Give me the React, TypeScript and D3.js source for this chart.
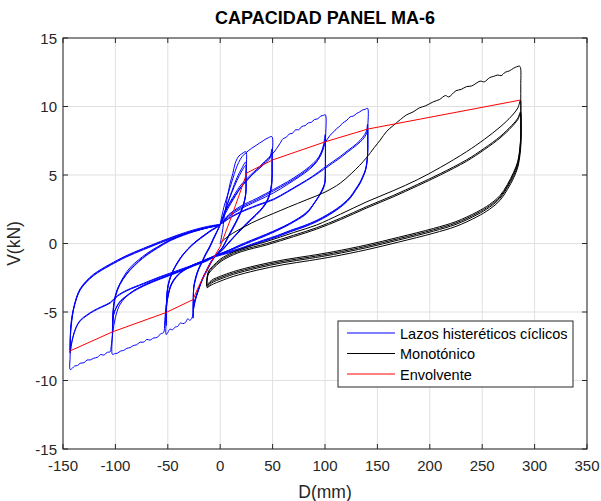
import React from 'react';
import * as d3 from 'd3';

type P = [number, number];

const title = 'CAPACIDAD PANEL MA-6';
const xLabel = 'D(mm)';
const yLabel = 'V(kN)';
const xTicks = [-150, -100, -50, 0, 50, 100, 150, 200, 250, 300, 350];
const yTicks = [-15, -10, -5, 0, 5, 10, 15];
const legendLabels = ['Lazos histeréticos cíclicos', 'Monotónico', 'Envolvente'];
const seriesColors = ['#0000ff', '#000000', '#ff0000'];

// Cyclic loops, amplitude +-25 mm
const cyclic25: P[] = [
  [0, 0], [2, 0.8], [4, 2.0], [6.4, 3.2], [9.5, 4.4], [12, 5.1], [14.3, 5.85], [17, 6.3], [19, 6.46], [22, 6.62], [24.5, 6.7],
  [24.6, 5.2], [24.4, 3.7], [21, 2.6], [15, 1.6], [8, 0.6], [2, -0.3], [-4.5, -0.85], [-9, -1.35], [-13, -1.95], [-17, -2.55], [-20.5, -3.3], [-23.5, -3.95], [-25.2, -4.6], [-25.8, -5.45],
  [-25.7, -4.3], [-25.3, -3.3], [-23, -2.5], [-20.5, -1.9], [-17, -1.35], [-14.3, -0.9], [-10, -0.3], [-6.4, 0.3], [-3, 0.85], [0, 1.35],
  [3, 2.0], [6.4, 2.75], [11, 3.8], [16, 4.8], [20.7, 5.5], [24.4, 5.95],
  [24.6, 4.8], [24.3, 3.6], [21, 2.55], [15, 1.55], [8, 0.55], [2, -0.3], [-4.5, -0.9], [-9, -1.4], [-13, -2.0], [-17, -2.6], [-20.5, -3.3], [-23.5, -4.0], [-25.2, -4.5], [-25.7, -5.0],
  [-25.6, -4.0], [-25.2, -3.2], [-23, -2.4], [-20.5, -1.85], [-17, -1.3], [-14.3, -0.85], [-10, -0.25], [-6.4, 0.35], [-3, 0.9], [0, 1.4],
  [3, 2.05], [6.4, 2.8], [11, 3.7], [16, 4.6], [20.7, 5.3], [24.4, 5.7],
  [24.6, 4.7], [24.3, 3.5], [21, 2.5], [15, 1.5], [8, 0.5], [2, -0.35], [-4.5, -0.9], [-9, -1.45], [-13, -2.05], [-17, -2.65], [-20.5, -3.35], [-23.5, -4.0], [-25.2, -4.45], [-25.7, -4.8],
  [-25.6, -3.9], [-25.2, -3.1], [-23, -2.35], [-20.5, -1.8], [-17, -1.25], [-14.3, -0.8], [-10, -0.2], [-6.4, 0.4], [-3, 0.9], [0, 1.4],
];

// Cyclic loops, amplitude +-50 mm
const cyclic50: P[] = [
  [0, 1.4], [4, 2.8], [9.5, 4.1], [13.5, 5.1], [17.5, 5.9], [21, 6.35], [25, 6.65], [30, 6.95], [35, 7.2], [40, 7.45], [43, 7.6], [46, 7.72], [49.3, 7.8],
  [49.5, 6.2], [49.4, 4.8], [48, 3.9], [45, 3.2], [40, 2.6], [35, 2.2], [25.4, 1.5], [19, 1.0], [10, 0.2], [3, -0.4], [-4, -0.85],
  [-9, -1.35], [-13, -1.95], [-17, -2.6], [-20.5, -3.35], [-23.5, -4.1], [-25.5, -4.8], [-27, -5.45],
  [-29, -5.6], [-31, -5.5], [-33, -5.75], [-35.5, -5.85], [-38, -5.8], [-40.5, -6.05], [-43, -6.1], [-45.5, -6.3], [-48, -6.25], [-50, -6.5], [-51.5, -6.65],
  [-51.6, -5.5], [-51.2, -4.3], [-50.3, -3.4], [-48.5, -2.75], [-46.1, -2.2], [-41, -1.4], [-35, -0.75], [-27, -0.1], [-19.1, 0.4], [-10, 0.9], [0, 1.4],
  [5, 2.4], [10, 3.1], [19, 4.2], [25, 4.7], [31.8, 5.2], [37, 5.55], [41.3, 5.85], [45, 6.1], [47.7, 6.35], [49.3, 6.9],
  [49.5, 5.6], [49.3, 4.5], [47.5, 3.7], [44, 3.0], [38, 2.4], [30, 1.8], [20, 1.05], [10, 0.25], [3, -0.35], [-4, -0.85],
  [-10, -1.05], [-19.1, -1.35], [-27, -1.6], [-35, -1.95], [-40, -2.25], [-44.6, -2.7], [-47.5, -3.15], [-49.3, -3.65], [-50.8, -4.3], [-51.5, -4.95], [-51.6, -6.0],
  [-51.5, -5.0], [-51, -4.0], [-50, -3.2], [-48, -2.6], [-45, -2.0], [-40, -1.35], [-35, -0.8], [-27, -0.15], [-19, 0.35], [-10, 0.85], [0, 1.4],
  [5, 2.35], [10, 3.0], [19, 4.05], [25, 4.6], [31.8, 5.1], [37, 5.45], [41.3, 5.75], [45, 6.0], [47.7, 6.25], [49.3, 6.6],
  [49.5, 5.5], [49.3, 4.4], [47.5, 3.6], [44, 2.95], [38, 2.35], [30, 1.75], [20, 1.0], [10, 0.2], [3, -0.4], [-4, -0.9],
  [-10, -1.1], [-19.1, -1.4], [-27, -1.65], [-35, -2.0], [-40, -2.3], [-44.6, -2.75], [-47.5, -3.2], [-49.3, -3.7], [-50.8, -4.35], [-51.5, -5.0], [-51.6, -5.8],
  [-51.5, -4.9], [-51, -3.9], [-50, -3.1], [-48, -2.5], [-45, -1.95], [-40, -1.3], [-35, -0.75], [-27, -0.1], [-19, 0.4], [-10, 0.9], [0, 1.4],
];

// Cyclic loops, amplitude +-100 mm
const cyclic100: P[] = [
  [0, 1.4], [5, 2.2], [10, 2.9], [20, 4.1], [28, 4.8], [35, 5.4], [42, 5.95], [50, 6.55], [54, 6.95], [57, 7.3],
  [60, 7.65], [63, 7.75], [66, 8.0], [69, 8.05], [72, 8.3], [75, 8.3], [78, 8.55], [81, 8.6], [84, 8.8], [87, 8.85], [90, 9.05], [93, 9.1], [96, 9.3], [98.5, 9.35], [100.3, 9.4],
  [100.5, 7.5], [100.4, 5.5], [100, 4.5], [97, 3.9], [92, 3.2], [82.7, 2.3], [67, 1.5], [55, 1.05], [44.5, 0.7], [30, 0.25], [19, -0.1], [8, -0.5], [-4, -0.85],
  [-10, -1.05], [-19, -1.35], [-27, -1.6], [-35, -1.95], [-42, -2.4], [-47, -3.0], [-50, -3.8], [-52, -4.8], [-53, -5.8], [-54, -6.5],
  [-57, -6.6], [-60, -6.85], [-63.6, -6.9], [-67, -7.05], [-70, -7.0], [-73, -7.2], [-76.3, -7.2], [-80, -7.4], [-83, -7.45], [-86, -7.6], [-89, -7.65], [-92, -7.8], [-95, -7.85], [-98, -8.0], [-101, -8.05], [-102.8, -8.1],
  [-102.8, -6.6], [-102.4, -5.5], [-101.8, -4.85], [-100, -3.9], [-97, -3.15], [-92, -2.4], [-85.9, -1.75], [-78, -1.2], [-69.9, -0.72], [-60, -0.25], [-47.7, 0.26], [-35, 0.65], [-25.5, 0.9], [-12, 1.15], [0, 1.4],
  [8, 2.1], [19, 2.7], [35, 3.3], [51, 3.95], [64, 4.5], [76.3, 5.1], [85, 5.6], [92, 6.1], [96, 6.6], [98.6, 7.2], [100.2, 7.95],
  [100.4, 6.5], [100.3, 5.2], [99.5, 4.3], [96, 3.7], [90, 3.0], [82.7, 2.25], [72, 1.7], [60, 1.2], [44.5, 0.65], [30, 0.2], [19, -0.15], [8, -0.5], [-4, -0.9],
  [-12, -1.2], [-25.5, -1.6], [-40, -2.05], [-57.3, -2.55], [-70, -2.95], [-82.7, -3.45], [-90, -3.85], [-95.4, -4.2], [-99.5, -4.7], [-101.8, -5.2], [-102.5, -5.9], [-102.8, -6.8],
  [-102.7, -5.8], [-102.2, -5.0], [-101, -4.2], [-98, -3.4], [-93, -2.65], [-86, -1.95], [-78, -1.35], [-70, -0.85], [-60, -0.35], [-47.7, 0.2], [-35, 0.6], [-25.5, 0.85], [-12, 1.15], [0, 1.4],
  [8, 2.05], [19, 2.6], [35, 3.2], [51, 3.85], [64, 4.4], [76.3, 5.0], [85, 5.5], [92, 6.0], [96, 6.45], [98.6, 7.0], [100.2, 7.6],
  [100.4, 6.3], [100.3, 5.1], [99.5, 4.25], [96, 3.65], [90, 2.95], [82.7, 2.2], [72, 1.65], [60, 1.15], [44.5, 0.6], [30, 0.15], [19, -0.2], [8, -0.55], [-4, -0.9],
  [-12, -1.25], [-25.5, -1.65], [-40, -2.1], [-57.3, -2.6], [-70, -3.0], [-82.7, -3.5], [-90, -3.9], [-95.4, -4.25], [-99.5, -4.75], [-101.8, -5.25], [-102.5, -5.9], [-102.8, -6.6],
  [-102.7, -5.7], [-102.2, -4.9], [-101, -4.1], [-98, -3.3], [-93, -2.6], [-86, -1.9], [-78, -1.3], [-70, -0.8], [-60, -0.3], [-47.7, 0.25], [-35, 0.65], [-25.5, 0.9], [-12, 1.15], [0, 1.4],
];

// Cyclic loops, amplitude +140 / -143 mm
const cyclic140: P[] = [
  [0, 1.4], [8, 1.95], [19, 2.5], [35, 3.1], [51, 3.7], [64, 4.3], [76, 4.9], [85, 5.4], [92, 5.95], [96, 6.5], [98.6, 7.0], [100.5, 7.4],
  [103, 7.7], [106, 8.0], [109, 8.2], [111.3, 8.4], [114, 8.55], [117, 8.8], [120.9, 9.0], [124, 9.25], [127, 9.3], [130.4, 9.5], [133, 9.6], [136, 9.75], [138.5, 9.8], [140.6, 9.87],
  [140.8, 8.3], [140.7, 6.6], [139.8, 5.9], [138.4, 5.36], [136, 4.9], [133.6, 4.5], [129, 3.95], [124, 3.4], [118, 2.95], [111.3, 2.55], [102, 2.1], [92.3, 1.7], [80, 1.3], [66.8, 0.95], [55, 0.6], [41.3, 0.25], [30, -0.05], [19, -0.35], [8, -0.6], [-4, -0.85],
  [-12, -1.2], [-25.5, -1.6], [-40, -2.05], [-57.3, -2.55], [-70, -2.95], [-82.7, -3.45], [-90, -3.9], [-96, -4.5], [-100, -5.4], [-102.5, -6.5], [-104, -7.5], [-105, -7.9],
  [-108, -7.95], [-111, -8.15], [-114, -8.1], [-117, -8.3], [-120.9, -8.38], [-124, -8.5], [-127, -8.5], [-130, -8.7], [-133.6, -8.74], [-136, -8.9], [-139, -8.95], [-141, -9.1], [-143.1, -9.2],
  [-143.2, -8.2], [-143.1, -7.2], [-142.5, -6.3], [-141.5, -5.6], [-140, -4.85], [-137, -4.0], [-133.6, -3.39], [-128, -2.85], [-120.9, -2.35], [-113, -1.95], [-105, -1.6], [-90, -1.0], [-73.2, -0.45], [-57, 0.05], [-41.3, 0.5], [-25, 0.9], [-12, 1.15], [0, 1.4],
  [8, 1.85], [19, 2.3], [35, 2.8], [51, 3.25], [64, 3.8], [76.3, 4.35], [88, 4.9], [98.6, 5.5], [107, 5.95], [114.5, 6.35], [122, 6.8], [130.4, 7.3], [136, 7.75], [139.5, 8.2], [140.6, 8.7],
  [140.8, 7.6], [140.6, 6.5], [139.8, 5.8], [138.4, 5.3], [136, 4.85], [133.6, 4.45], [129, 3.9], [124, 3.35], [118, 2.9], [111.3, 2.5], [102, 2.05], [92.3, 1.65], [80, 1.25], [66.8, 0.9], [55, 0.55], [41.3, 0.2], [30, -0.1], [19, -0.4], [8, -0.65], [-4, -0.9],
  [-12, -1.15], [-25.5, -1.55], [-40, -1.95], [-57.3, -2.42], [-73, -2.9], [-89, -3.4], [-98, -3.8], [-105, -4.3], [-113, -4.6], [-120.9, -4.9], [-127, -5.2], [-133.6, -5.6], [-137.5, -6.1], [-140.5, -6.8], [-142.3, -7.5], [-143.1, -8.0],
  [-143.1, -7.2], [-142.7, -6.3], [-141.8, -5.6], [-140, -4.8], [-137, -3.95], [-133.6, -3.35], [-128, -2.8], [-120.9, -2.3], [-113, -1.9], [-105, -1.55], [-90, -0.95], [-73.2, -0.4], [-57, 0.1], [-41.3, 0.55], [-25, 0.95], [-12, 1.2], [0, 1.4],
  [8, 1.8], [19, 2.25], [35, 2.75], [51, 3.2], [64, 3.75], [76.3, 4.3], [88, 4.85], [98.6, 5.4], [107, 5.85], [114.5, 6.25], [122, 6.7], [130.4, 7.2], [136, 7.6], [139.5, 8.0], [140.6, 8.4],
  [140.8, 7.4], [140.6, 6.4], [139.8, 5.75], [138.4, 5.25], [136, 4.8], [133.6, 4.4], [129, 3.85], [124, 3.3], [118, 2.85], [111.3, 2.45], [102, 2.0], [92.3, 1.6], [80, 1.2], [66.8, 0.85], [55, 0.5], [41.3, 0.15], [30, -0.15], [19, -0.45], [8, -0.7], [-4, -0.95],
  [-12, -1.2], [-25.5, -1.6], [-40, -2.0], [-57.3, -2.47], [-73, -2.95], [-89, -3.45], [-98, -3.85], [-105, -4.35], [-113, -4.65], [-120.9, -4.95], [-127, -5.25], [-133.6, -5.65], [-137.5, -6.15], [-140.5, -6.85], [-142.3, -7.5], [-143.1, -7.9],
  [-143.1, -7.1], [-142.7, -6.2], [-141.8, -5.5], [-140, -4.75], [-137, -3.9], [-133.6, -3.3], [-128, -2.75], [-120.9, -2.25], [-113, -1.85], [-105, -1.5], [-90, -0.9], [-73.2, -0.35], [-57, 0.15], [-41.3, 0.6], [-25, 1.0], [-12, 1.25], [0, 1.4],
];

// Monotonic test (black)
const monotonic: P[] = [
  [0, 0], [3, 0.25], [6.4, 0.45], [12, 0.75], [19, 1.05], [30, 1.5], [40, 1.85], [51, 2.2], [65, 2.65], [82.7, 3.2], [100, 3.75], [114.5, 4.4], [125, 5.1], [133, 5.7], [140, 6.3], [147, 7.0], [152.7, 7.55], [159, 8.2], [165, 8.6], [172, 9.05], [178, 9.4], [184, 9.6], [190, 9.9], [196, 10.05], [203.5, 10.35], [209, 10.5], [215, 10.8], [218, 10.7], [225, 11.15], [230, 11.25], [235, 11.45], [240, 11.5], [248, 11.85], [252, 11.8], [257, 12.1], [261, 12.2], [265, 12.3], [268, 12.25], [272, 12.5], [276, 12.6], [280, 12.8], [283, 12.9], [285.5, 12.95], [286.5, 12.85],
  [286.8, 11.5], [286.8, 10.4], [286.9, 9.0], [286.8, 8.0], [286, 7.0], [284, 6.0], [280, 5.2], [274, 4.3], [267, 3.5], [257, 2.85], [245, 2.3], [225, 1.6], [203.5, 1.1], [170, 0.45], [140, -0.1], [108, -0.6], [85, -0.9], [60, -1.2], [35, -1.6], [12.7, -2.05], [0, -2.4], [-6.4, -2.6], [-10, -2.8], [-12.4, -3.0],
  [-12.6, -2.6], [-11, -2.0], [-6.4, -1.6], [0, -1.15], [6.4, -0.85], [20, -0.4], [44.5, 0.15], [70, 0.8], [92, 1.35], [115, 2.15], [140, 3.05], [165, 3.85], [188, 4.65], [210, 5.55], [235, 6.7], [252, 7.6], [267, 8.5], [278, 9.3], [284, 9.9], [286.5, 10.45],
  [286.9, 9.5], [287, 8.5], [286.8, 7.7], [286, 6.9], [284, 5.9], [280, 5.1], [274, 4.2], [267, 3.4], [257, 2.75], [245, 2.2], [225, 1.5], [203.5, 1.0], [170, 0.35], [140, -0.2], [108, -0.7], [85, -1.0], [60, -1.3], [35, -1.7], [12.7, -2.15], [0, -2.5], [-6.4, -2.7], [-10, -2.9], [-12.5, -3.1],
  [-12.7, -2.7], [-11, -2.1], [-6.4, -1.7], [0, -1.25], [6.4, -0.95], [20, -0.5], [44.5, 0.0], [70, 0.6], [92, 1.15], [115, 1.85], [140, 2.7], [165, 3.5], [188, 4.3], [210, 5.1], [235, 6.1], [252, 6.95], [267, 7.8], [278, 8.6], [284, 9.15], [286.5, 9.6],
  [287, 8.8], [287, 7.9], [286.8, 7.4], [286, 6.7], [284, 5.75], [280, 4.95], [274, 4.1], [267, 3.3], [257, 2.65], [245, 2.1], [225, 1.4], [203.5, 0.9], [170, 0.25], [140, -0.3], [108, -0.8], [85, -1.1], [60, -1.4], [35, -1.8], [12.7, -2.25], [0, -2.6], [-6.4, -2.8], [-10, -3.0], [-12.6, -3.2],
  [-12.8, -2.8], [-11, -2.2], [-6.4, -1.8], [0, -1.35], [6.4, -1.05], [20, -0.6], [44.5, -0.1], [70, 0.5], [92, 1.05], [115, 1.75], [140, 2.6], [165, 3.4], [188, 4.2], [210, 5.0], [235, 6.0], [252, 6.85], [267, 7.7], [278, 8.5], [284, 9.05], [286.5, 9.5],
  [287, 8.7], [287.1, 7.8], [286.9, 7.2], [286.1, 6.5], [284.1, 5.6], [280.1, 4.8], [274.1, 3.95], [267, 3.15], [257, 2.5], [245, 1.95], [225, 1.25], [203.5, 0.75], [170, 0.1], [140, -0.45], [108, -0.95], [85, -1.25], [60, -1.55], [35, -1.95], [12.7, -2.4], [0, -2.75], [-6.4, -2.95], [-10, -3.1], [-12.8, -3.25],
];

// Envelope (red)
const envelope: P[] = [
  [-143.5, -7.85], [-102.8, -6.45], [-52, -5.05], [-26, -4.1], [-20.7, -3.15], [-9.5, -1.45], [0, -0.23], [9.5, 1.7], [17.5, 3.4], [25.4, 5.15], [50, 6.1], [100.5, 7.43], [140.6, 8.35], [286.5, 10.47],
];

const FONT = 'Liberation Sans, Arial, Helvetica, sans-serif';

export default function App() {
  const W = 601;
  const H = 501;
  const left = 63, right = 587, top = 38, bottom = 449;
  const x = d3.scaleLinear().domain([-150, 350]).range([left, right]);
  const y = d3.scaleLinear().domain([-15, 15]).range([bottom, top]);
  const smooth = d3.line<P>().x((d) => x(d[0])).y((d) => y(d[1])).curve(d3.curveCatmullRom.alpha(0.5));
  const straight = d3.line<P>().x((d) => x(d[0])).y((d) => y(d[1]));
  const axisColor = '#262626';
  const gridColor = '#e0e0e0';
  const tickLen = 5;

  const blueSeries = [cyclic25, cyclic50, cyclic100, cyclic140];

  const legX = 338, legY = 321, legW = 235, legH = 66;

  return (
    <svg width={W} height={H} viewBox={`0 0 ${W} ${H}`} style={{ position: 'absolute', left: 0, top: 0, background: '#fff' }}>
      <rect x={0} y={0} width={W} height={H} fill="#ffffff" />
      <defs>
        <clipPath id="plotClip">
          <rect x={left} y={top} width={right - left} height={bottom - top} />
        </clipPath>
      </defs>
      {xTicks.map((t) => (
        <line key={'gx' + t} x1={x(t)} x2={x(t)} y1={top} y2={bottom} stroke={gridColor} strokeWidth={1} />
      ))}
      {yTicks.map((t) => (
        <line key={'gy' + t} x1={left} x2={right} y1={y(t)} y2={y(t)} stroke={gridColor} strokeWidth={1} />
      ))}
      <g clipPath="url(#plotClip)" fill="none" strokeLinejoin="round">
        {blueSeries.map((s, i) => (
          <path key={'b' + i} d={smooth(s) || ''} stroke={seriesColors[0]} strokeWidth={1} />
        ))}
        <path d={smooth(monotonic) || ''} stroke={seriesColors[1]} strokeWidth={1} />
        <path d={straight(envelope) || ''} stroke={seriesColors[2]} strokeWidth={1} />
      </g>
      <rect x={left} y={top} width={right - left} height={bottom - top} fill="none" stroke={axisColor} strokeWidth={1} />
      {xTicks.map((t) => (
        <g key={'tx' + t}>
          <line x1={x(t)} x2={x(t)} y1={bottom} y2={bottom - tickLen} stroke={axisColor} />
          <line x1={x(t)} x2={x(t)} y1={top} y2={top + tickLen} stroke={axisColor} />
          <text x={x(t)} y={bottom + 22} textAnchor="middle" fontFamily={FONT} fontSize={15} fill={axisColor}>{t}</text>
        </g>
      ))}
      {yTicks.map((t) => (
        <g key={'ty' + t}>
          <line x1={left} x2={left + tickLen} y1={y(t)} y2={y(t)} stroke={axisColor} />
          <line x1={right} x2={right - tickLen} y1={y(t)} y2={y(t)} stroke={axisColor} />
          <text x={left - 6} y={y(t) + 5.5} textAnchor="end" fontFamily={FONT} fontSize={15} fill={axisColor}>{t}</text>
        </g>
      ))}
      <text x={(left + right) / 2} y={498} textAnchor="middle" fontFamily={FONT} fontSize={17.5} fill={axisColor}>{xLabel}</text>
      <text transform={`translate(20,${(top + bottom) / 2}) rotate(-90)`} textAnchor="middle" fontFamily={FONT} fontSize={17.5} fill={axisColor}>{yLabel}</text>
      <text x={(left + right) / 2} y={24} textAnchor="middle" fontFamily={FONT} fontSize={18} fontWeight="bold" fill="#000">{title}</text>
      <rect x={legX} y={legY} width={legW} height={legH} fill="#fff" stroke={axisColor} strokeWidth={1} />
      {legendLabels.map((lab, i) => (
        <g key={'l' + i}>
          <line x1={legX + 9} x2={legX + 57} y1={legY + 12 + i * 20.5} y2={legY + 12 + i * 20.5} stroke={seriesColors[i]} strokeWidth={1} />
          <text x={legX + 62} y={legY + 17.5 + i * 20.5} fontFamily={FONT} fontSize={14.5} fill="#000">{lab}</text>
        </g>
      ))}
    </svg>
  );
}
